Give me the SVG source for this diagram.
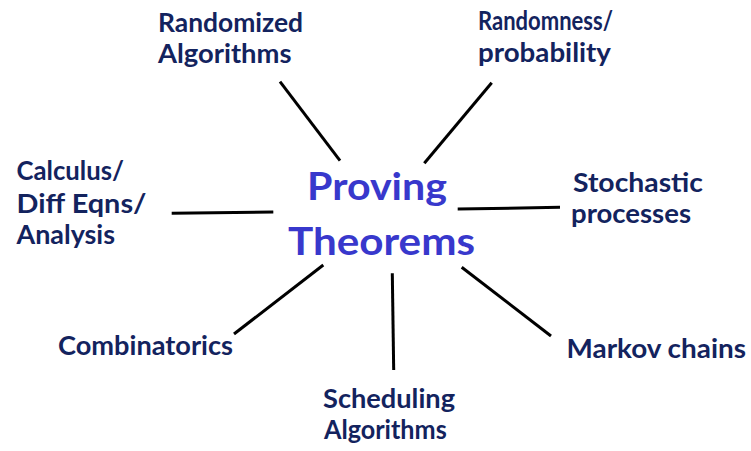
<svg xmlns="http://www.w3.org/2000/svg" width="751" height="451" viewBox="0 0 751 451">
<style>
.lbl{font-family:Lato,"Open Sans","DejaVu Sans",sans-serif;font-weight:bold;font-size:26px;fill:#13235e}
.ctr{font-family:Lato,"Open Sans","DejaVu Sans",sans-serif;font-weight:bold;font-size:38.5px;fill:#3838cc}
.con line{stroke:#000;stroke-width:3;stroke-linecap:butt}
</style>
<rect width="751" height="451" fill="#fff"/>
<g id="connectors" class="con">
<line x1="280" y1="81.7" x2="340" y2="160.7"/>
<line x1="491.7" y1="82.7" x2="424.3" y2="163.3"/>
<line x1="171.7" y1="213.3" x2="273.3" y2="212"/>
<line x1="457.7" y1="209" x2="560" y2="207.3"/>
<line x1="234" y1="334" x2="323.3" y2="265"/>
<line x1="392.3" y1="273.3" x2="393.7" y2="370"/>
<line x1="461.7" y1="267.3" x2="551" y2="336"/>
</g>
<g id="center">
<text class="ctr" x="307" y="200" textLength="140" lengthAdjust="spacingAndGlyphs">Proving</text>
<text class="ctr" x="288" y="255" textLength="187" lengthAdjust="spacingAndGlyphs">Theorems</text>
</g>
<g id="randomized-algorithms">
<text class="lbl" x="158" y="31.7" textLength="145" lengthAdjust="spacingAndGlyphs">Randomized</text>
<text class="lbl" x="158" y="63" textLength="133.5" lengthAdjust="spacingAndGlyphs">Algorithms</text>
</g>
<g id="randomness-probability">
<text class="lbl" x="478" y="30" textLength="135" lengthAdjust="spacingAndGlyphs">Randomness/</text>
<text class="lbl" x="478" y="61.5" textLength="133" lengthAdjust="spacingAndGlyphs">probability</text>
</g>
<g id="calculus">
<text class="lbl" x="16.5" y="180" textLength="107.5" lengthAdjust="spacingAndGlyphs">Calculus/</text>
<text class="lbl" x="16.5" y="213" textLength="130" lengthAdjust="spacingAndGlyphs">Diff Eqns/</text>
<text class="lbl" x="16.5" y="243.5" textLength="98.5" lengthAdjust="spacingAndGlyphs">Analysis</text>
</g>
<g id="stochastic">
<text class="lbl" x="573" y="191.7" textLength="130" lengthAdjust="spacingAndGlyphs">Stochastic</text>
<text class="lbl" x="571" y="223.3" textLength="120" lengthAdjust="spacingAndGlyphs">processes</text>
</g>
<g id="combinatorics">
<text class="lbl" x="58" y="355" textLength="175" lengthAdjust="spacingAndGlyphs">Combinatorics</text>
</g>
<g id="markov">
<text class="lbl" x="566.5" y="358.3" textLength="179.5" lengthAdjust="spacingAndGlyphs">Markov chains</text>
</g>
<g id="scheduling">
<text class="lbl" x="323" y="408.3" textLength="132" lengthAdjust="spacingAndGlyphs">Scheduling</text>
<text class="lbl" x="324" y="439" textLength="122.7" lengthAdjust="spacingAndGlyphs">Algorithms</text>
</g>
</svg>
